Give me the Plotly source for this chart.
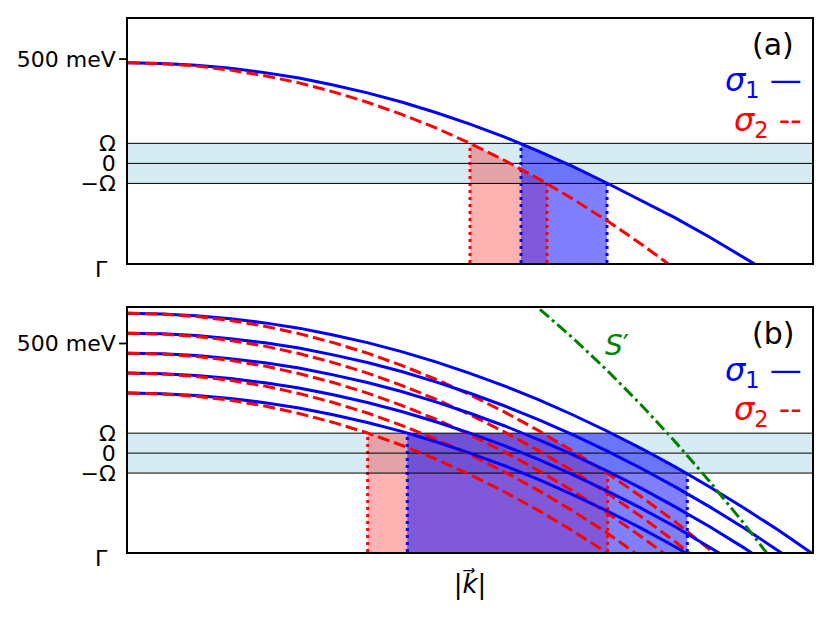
import numpy as np
import plotly.graph_objects as go

# common momentum grid (|k| in units of the panel width)
k_grid = [0.00, 0.05, 0.10, 0.15, 0.20, 0.25, 0.30, 0.35, 0.40, 0.45, 0.50,
          0.55, 0.60, 0.65, 0.70, 0.75, 0.80, 0.85, 0.90, 0.95, 1.00]

# panel (a): one band, energies in meV
omega_a = 96
band_top_a = 482
sigma1_drop_a = [0, 3, 12, 26, 47, 73, 106, 144, 188, 238, 294,
                 355, 423, 496, 576, 658, 743, 835, 930, 1028, 1128]
sigma2_drop_a = [0, 4, 15, 35, 62, 96, 139, 189, 247, 312, 386,
                 467, 555, 652, 756, 868, 988, 1115, 1250, 1393, 1543]
sigma1_window_a = [0.5746, 0.7003]
sigma2_window_a = [0.5000, 0.6126]
y_range_a = [-478, 692]

# panel (b): five replicas of the band
omega_b = 91
band_tops_b = [638, 547, 456, 365, 274]
sigma1_drop_b = [0, 3, 11, 25, 44, 68, 99, 134, 175, 222, 274,
                 331, 394, 463, 537, 616, 701, 791, 887, 988, 1095]
sigma2_drop_b = [0, 4, 15, 33, 59, 93, 134, 182, 238, 301, 372,
                 450, 535, 628, 728, 836, 951, 1074, 1204, 1341, 1486]
sigma1_window_b = [0.4083, 0.8177]
sigma2_window_b = [0.3504, 0.7013]
s_prime_k = [0.55, 0.60, 0.65, 0.70, 0.75, 0.80, 0.85, 0.90, 0.95]
s_prime_E = [788, 662, 526, 379, 221, 52, -128, -319, -521]
y_range_b = [-451, 660]

tick_text = ["\u2212\u03a9", "0", "\u03a9", "500 meV"]
meV_500 = 500
gamma_label = "\u0393"

BLUE = "#0000ff"
RED = "#ff0000"
GREEN = "#008000"
FONT = "DejaVu Sans"

fig = go.Figure()
kg = np.array(k_grid)


def window_fill(win, top, drop, omega, bottom):
    curve = top - np.array(drop)
    k_lo, k_hi = win
    ks = [k_lo, k_hi] + [k for k in k_grid if k_lo < k < k_hi]
    k_cap = float(np.interp(omega, curve[::-1], kg[::-1]))
    if k_lo < k_cap < k_hi:
        ks.append(k_cap)
    ks = sorted(ks)
    ys = [min(omega, float(np.interp(k, kg, curve))) for k in ks]
    return [k_lo] + ks + [k_hi], [bottom] + ys + [bottom]


def add_panel(xa, ya, tops, d1, d2, win1, win2, omega, yr):
    bottom = yr[0]
    top = max(tops)
    # shaded windows (red first, blue on top)
    for win, drop, col in [(win2, d2, "rgba(255,0,0,0.3)"), (win1, d1, "rgba(0,0,255,0.5)")]:
        x, y = window_fill(win, top, drop, omega, bottom)
        fig.add_trace(go.Scatter(x=x, y=y, xaxis=xa, yaxis=ya, mode="lines", fill="toself",
                                 fillcolor=col, line=dict(width=0), hoverinfo="skip"))
    # dotted edges of the windows
    for win, col in [(win2, RED), (win1, BLUE)]:
        for k, yt in zip(win, [omega, -omega]):
            fig.add_trace(go.Scatter(x=[k, k], y=[bottom, yt], xaxis=xa, yaxis=ya, mode="lines",
                                     line=dict(color=col, width=3, dash="3px,4px")))
    # Omega, 0, -Omega lines
    for v in [-omega, 0, omega]:
        fig.add_trace(go.Scatter(x=[0, 1], y=[v, v], xaxis=xa, yaxis=ya, mode="lines",
                                 line=dict(color="black", width=1)))
    # bands
    for t in tops:
        fig.add_trace(go.Scatter(x=k_grid, y=t - np.array(d1), xaxis=xa, yaxis=ya, mode="lines",
                                 line=dict(color=BLUE, width=3)))
        fig.add_trace(go.Scatter(x=k_grid, y=t - np.array(d2), xaxis=xa, yaxis=ya, mode="lines",
                                 line=dict(color=RED, width=3, dash="12px,5px")))


add_panel("x", "y", [band_top_a], sigma1_drop_a, sigma2_drop_a,
          sigma1_window_a, sigma2_window_a, omega_a, y_range_a)
add_panel("x2", "y2", band_tops_b, sigma1_drop_b, sigma2_drop_b,
          sigma1_window_b, sigma2_window_b, omega_b, y_range_b)

fig.add_trace(go.Scatter(x=s_prime_k, y=s_prime_E, xaxis="x2", yaxis="y2", mode="lines",
                         line=dict(color=GREEN, width=3, dash="12px,4px,3px,4px")))

axis_common = dict(showline=True, mirror=True, linecolor="black", linewidth=1.6,
                   showgrid=False, zeroline=False)
fig.update_layout(
    width=830, height=617, showlegend=False,
    margin=dict(l=120, r=26, t=9, b=73),
    plot_bgcolor="white", paper_bgcolor="white",
    font=dict(family=FONT, size=22, color="black"),
    xaxis=dict(domain=[0, 1], range=[0, 1], showticklabels=False, ticks="", anchor="y", **axis_common),
    yaxis=dict(domain=[0.542, 1], range=y_range_a, anchor="x",
               tickvals=[-omega_a, 0, omega_a, meV_500], ticktext=tick_text,
               ticks="", ticklabelstandoff=6, **axis_common),
    xaxis2=dict(domain=[0, 1], range=[0, 1], showticklabels=False, ticks="", anchor="y2",
                title=dict(text="|<i>k\u20d7</i>|", font=dict(size=26), standoff=22), **axis_common),
    yaxis2=dict(domain=[0, 0.457], range=y_range_b, anchor="x2",
                tickvals=[-omega_b, 0, omega_b, meV_500], ticktext=tick_text,
                ticks="", ticklabelstandoff=6, **axis_common),
)

shapes = []
for yref, omega, yr in [("y", omega_a, y_range_a), ("y2", omega_b, y_range_b)]:
    shapes.append(dict(type="rect", xref=yref.replace("y", "x") + " domain", x0=0, x1=1,
                       yref=yref, y0=-omega, y1=omega, fillcolor="rgba(173,216,230,0.5)",
                       line=dict(width=0), layer="below"))
    frac = (meV_500 - yr[0]) / (yr[1] - yr[0])
    shapes.append(dict(type="line", xref="paper", x0=-0.013, x1=0,
                       yref=yref + " domain", y0=frac, y1=frac,
                       line=dict(color="black", width=1.8)))
fig.update_layout(shapes=shapes)

ann = []
for yref, tag in [("y", "(a)"), ("y2", "(b)")]:
    xref = yref.replace("y", "x") + " domain"
    ann.append(dict(text=tag, xref=xref, yref=yref + " domain", x=0.976, y=0.895,
                    xanchor="right", yanchor="middle", showarrow=False, font=dict(size=30)))
    ann.append(dict(text="<i>\u03c3</i><sub>1</sub> \u2014", xref=xref, yref=yref + " domain",
                    x=0.988, y=0.74, xanchor="right", yanchor="middle", showarrow=False,
                    font=dict(size=32, color=BLUE)))
    ann.append(dict(text="<i>\u03c3</i><sub>2</sub> --", xref=xref, yref=yref + " domain",
                    x=0.988, y=0.578, xanchor="right", yanchor="middle", showarrow=False,
                    font=dict(size=32, color=RED)))
    ann.append(dict(text=gamma_label, xref="paper", yref=yref + " domain", x=-0.026, y=0,
                    xanchor="right", yanchor="middle", yshift=-6, showarrow=False,
                    font=dict(size=22)))
ann.append(dict(text="<i>S</i>\u2032", xref="x2", yref="y2", x=0.715, y=490,
                xanchor="center", yanchor="middle", showarrow=False,
                font=dict(size=28, color=GREEN)))
fig.update_layout(annotations=ann)

fig.write_html("out.html")
